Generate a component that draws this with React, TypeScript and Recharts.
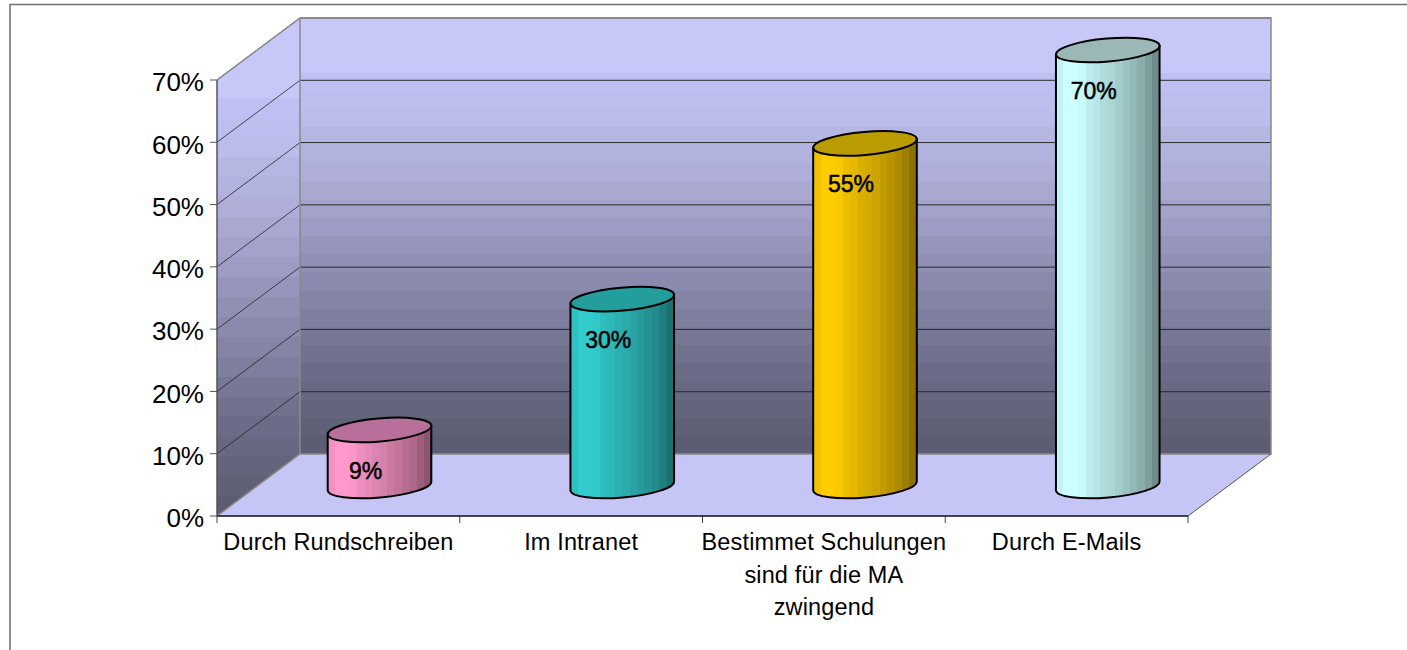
import React from 'react';
import { BarChart, Bar, XAxis, YAxis, LabelList } from 'recharts';

const categories = [
  'Durch Rundschreiben',
  'Im Intranet',
  'Bestimmet Schulungen\nsind für die MA\nzwingend',
  'Durch E-Mails',
];
const shares = [9, 30, 55, 70];
const yTicks = [0, 10, 20, 30, 40, 50, 60, 70];

const barColors = ['#ff99cc', '#33cccc', '#ffcc00', '#ccffff'];
const topColors = ['#b8709a', '#249e9c', '#bb9c00', '#9cb8b6'];
const shadeBands = [0.95, 1, 1, 0.98, 0.93, 0.9, 0.86, 0.84, 0.8, 0.76, 0.72, 0.68, 0.62, 0.55];
const wallBands = [
  '#c8c8f8', '#c8c8f8', '#c8c8f8', '#bfbff4', '#bebeee', '#bcbcea', '#b6b6e2', '#b2b2de',
  '#aeaed8', '#a8a8d0', '#a2a2ca', '#9c9cc4', '#9696bc', '#9090b4', '#8a8aae', '#8484a6',
  '#7e7e9e', '#787896', '#72728e', '#6c6c88', '#686882', '#64647c', '#606076', '#5c5c72',
];

const chartData = categories.map((name, i) => ({ name, share: shares[i] }));

const WIDTH = 1407;
const HEIGHT = 650;
const LEFT = 217;
const RIGHT = 1188;
const TOP = 80;
const BOTTOM = 516;
const DEPTH_X = 83;
const DEPTH_Y = 62;
const LIFT = 30;
const RX = 52;
const RY = 11.5;
const TILT = 5;
const FONT = "'Liberation Sans', Arial, sans-serif";

const scaleColor = (hex: string, f: number) => {
  const n = parseInt(hex.slice(1), 16);
  const ch = (s: number) => Math.round(((n >> s) & 255) * f);
  return `rgb(${ch(16)},${ch(8)},${ch(0)})`;
};

const bandStops = (colors: string[]) =>
  colors.flatMap((c, i) => [
    <stop key={`${i}a`} offset={i / colors.length} stopColor={c} />,
    <stop key={`${i}b`} offset={(i + 1) / colors.length} stopColor={c} />,
  ]);

const Walls = () => {
  const step = (BOTTOM - TOP) / (yTicks.length - 1);
  const rows = yTicks.map((_, i) => BOTTOM - i * step);
  const bandWidth = (RIGHT - LEFT) / categories.length;
  return (
    <g>
      <defs>
        <linearGradient id="backWall" gradientUnits="userSpaceOnUse" x1="0" x2="0" y1={TOP - DEPTH_Y} y2={BOTTOM - DEPTH_Y}>
          {bandStops(wallBands)}
        </linearGradient>
        <linearGradient id="sideWall" gradientUnits="userSpaceOnUse" x1="0" x2="0" y1={TOP - DEPTH_Y + 20} y2={BOTTOM}>
          {bandStops(wallBands)}
        </linearGradient>
        {barColors.map((c, i) => (
          <linearGradient key={c} id={`cyl${i}`} x1="0" x2="1" y1="0" y2="0">
            {bandStops(shadeBands.map((f) => scaleColor(c, f)))}
          </linearGradient>
        ))}
      </defs>
      {/* chart frame, cropped by the picture on the right and bottom */}
      <path d={`M10 ${HEIGHT} V4.5 H${WIDTH}`} fill="none" stroke="#6e6e6e" strokeWidth={1.5} />
      <polygon
        points={`${LEFT},${BOTTOM} ${LEFT + DEPTH_X},${BOTTOM - DEPTH_Y} ${RIGHT + DEPTH_X},${BOTTOM - DEPTH_Y} ${RIGHT},${BOTTOM}`}
        fill="#c6c6f6"
      />
      <polygon
        points={`${LEFT},${TOP} ${LEFT + DEPTH_X},${TOP - DEPTH_Y} ${LEFT + DEPTH_X},${BOTTOM - DEPTH_Y} ${LEFT},${BOTTOM}`}
        fill="url(#sideWall)"
      />
      <rect x={LEFT + DEPTH_X} y={TOP - DEPTH_Y} width={RIGHT - LEFT} height={BOTTOM - TOP} fill="url(#backWall)" />
      {rows.slice(1).map((y) => (
        <g key={y}>
          <line x1={LEFT} y1={y} x2={LEFT + DEPTH_X} y2={y - DEPTH_Y} stroke="#222" strokeWidth={0.8} />
          <line x1={LEFT + DEPTH_X} y1={y - DEPTH_Y} x2={RIGHT + DEPTH_X} y2={y - DEPTH_Y} stroke="#2a2a2a" strokeWidth={1} />
        </g>
      ))}
      <path
        d={`M${LEFT} ${TOP} L${LEFT + DEPTH_X} ${TOP - DEPTH_Y} H${RIGHT + DEPTH_X} V${BOTTOM - DEPTH_Y} H${LEFT + DEPTH_X} L${LEFT} ${BOTTOM}`}
        fill="none"
        stroke="#8a8a8a"
        strokeWidth={1.5}
      />
      <line x1={LEFT + DEPTH_X} y1={TOP - DEPTH_Y} x2={LEFT + DEPTH_X} y2={BOTTOM - DEPTH_Y} stroke="#8a8a8a" strokeWidth={1.5} />
      <line x1={RIGHT} y1={BOTTOM} x2={RIGHT + DEPTH_X} y2={BOTTOM - DEPTH_Y} stroke="#555" strokeWidth={1} />
      {categories.concat('').map((_, i) => (
        <line key={i} x1={LEFT + i * bandWidth} y1={BOTTOM} x2={LEFT + i * bandWidth} y2={BOTTOM + 7} stroke="#444" strokeWidth={1} />
      ))}
    </g>
  );
};

const Cylinder = (props: any) => {
  const { x, y, width, height, index } = props;
  const cx = x + width / 2 + DEPTH_X / 2;
  const top = y - LIFT;
  const bottom = top + height;
  const a = (TILT * Math.PI) / 180;
  const dx = RX * Math.cos(a);
  const dy = RX * Math.sin(a);
  const rot = -TILT;
  const body =
    `M${cx - dx} ${top + dy} L${cx - dx} ${bottom + dy} ` +
    `A${RX} ${RY} ${rot} 0 0 ${cx + dx} ${bottom - dy} L${cx + dx} ${top - dy} Z`;
  return (
    <g>
      <path d={body} fill={`url(#cyl${index})`} stroke="#000" strokeWidth={2} strokeLinejoin="round" />
      <ellipse
        cx={cx}
        cy={top}
        rx={RX}
        ry={RY}
        transform={`rotate(${rot} ${cx} ${top})`}
        fill={topColors[index]}
        stroke="#000"
        strokeWidth={2}
      />
    </g>
  );
};

const ShareLabel = (props: any) => {
  const { x, y, width, value } = props;
  return (
    <text
      x={x + width / 2 + DEPTH_X / 2 - 14}
      y={y - LIFT + 49}
      textAnchor="middle"
      fontSize={23}
      fontFamily={FONT}
      fill="#000"
      stroke="#000"
      strokeWidth={0.5}
    >
      {`${value}%`}
    </text>
  );
};

const CategoryTick = (props: any) => {
  const { x, payload } = props;
  return (
    <text textAnchor="middle" fontSize={23.5} letterSpacing={0.15} fontFamily={FONT} fill="#000">
      {String(payload.value)
        .split('\n')
        .map((line, i) => (
          <tspan key={line} x={x} y={BOTTOM + 34 + i * 32.5}>
            {line}
          </tspan>
        ))}
    </text>
  );
};

const App = () => (
  <div style={{ position: 'absolute', left: 0, top: 0, width: WIDTH, height: HEIGHT, background: '#fff' }}>
    <BarChart
      width={WIDTH}
      height={HEIGHT}
      data={chartData}
      margin={{ top: TOP, right: WIDTH - RIGHT, bottom: 35, left: LEFT - 70 }}
      barSize={104}
    >
      <Walls />
      <XAxis
        dataKey="name"
        height={HEIGHT - BOTTOM - 35}
        interval={0}
        tick={<CategoryTick />}
        tickLine={false}
        axisLine={{ stroke: '#111', strokeWidth: 1.5 }}
      />
      <YAxis
        width={70}
        domain={[0, 70]}
        ticks={yTicks}
        tickFormatter={(v: number) => `${v}%`}
        tick={{ fontSize: 26, fill: '#000', fontFamily: FONT, dy: 2 }}
        tickSize={7}
        tickMargin={6}
        tickLine={{ stroke: '#555' }}
        axisLine={{ stroke: '#555', strokeWidth: 1.5 }}
      />
      <Bar dataKey="share" shape={<Cylinder />} isAnimationActive={false}>
        <LabelList dataKey="share" content={<ShareLabel />} />
      </Bar>
    </BarChart>
  </div>
);

export default App;
